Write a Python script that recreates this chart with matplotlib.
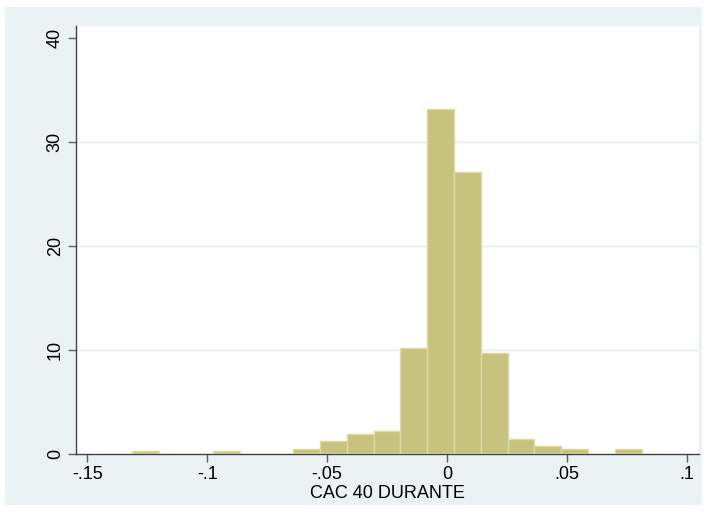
import matplotlib
matplotlib.use("Agg")
import matplotlib.pyplot as plt
from matplotlib.patches import Rectangle
import numpy as np

plt.rcParams['font.family'] = ['Liberation Sans', 'DejaVu Sans']

# Histogram of daily returns: 19 equal-width bins, counts per bin
bin_start = -0.1312
bin_width = 0.011176
counts = [1, 0, 0, 1, 0, 0, 2, 5, 8, 9, 42, 137, 112, 40, 6, 3, 2, 0, 2]
n_obs = sum(counts)
x_ticks = [-0.15, -0.1, -0.05, 0, 0.05, 0.1]
x_tick_labels = ['-.15', '-.1', '-.05', '0', '.05', '.1']
y_ticks = [0, 10, 20, 30, 40]
x_label = 'CAC 40 DURANTE'

edges = bin_start + bin_width * np.arange(len(counts) + 1)
density = np.array(counts) / (n_obs * bin_width)

W, H = 707, 519
fig = plt.figure(figsize=(W / 100, H / 100), dpi=100, facecolor='white')
bg = '#EAF2F3'
fig.patches.append(Rectangle((5 / W, 1 - 505 / H), 697 / W, 498 / H,
                             transform=fig.transFigure, facecolor=bg,
                             edgecolor='none', zorder=-5))

ax = fig.add_axes([76 / W, 1 - 454 / H, (699 - 76) / W, (454 - 25.7) / H])
ax.set_facecolor('white')

ax.bar(edges[:-1], density, width=bin_width, align='edge',
       color='#C8C27F', edgecolor='#DDD8A4', linewidth=1.0, zorder=3)

ax.set_xlim(-0.1547, 0.1051)
ax.set_ylim(0, 41.15)

for y in y_ticks[1:4]:
    ax.axhline(y, color='#E4ECEF', linewidth=1.0, zorder=1)

ax.set_xticks(x_ticks)
ax.set_xticklabels(x_tick_labels)
ax.set_yticks(y_ticks)
ax.set_yticklabels([str(v) for v in y_ticks], rotation=90, va='center')

for s in ['top', 'right']:
    ax.spines[s].set_visible(False)
for s in ['left', 'bottom']:
    ax.spines[s].set_color('#404040')
    ax.spines[s].set_linewidth(1.0)

ax.tick_params(axis='both', direction='out', length=5.8, width=1.0,
               color='#606060', labelsize=13, labelcolor='black', pad=3)
ax.set_xlabel(x_label, fontsize=13, labelpad=1)

fig.savefig('out.png', dpi=100, facecolor='white')
